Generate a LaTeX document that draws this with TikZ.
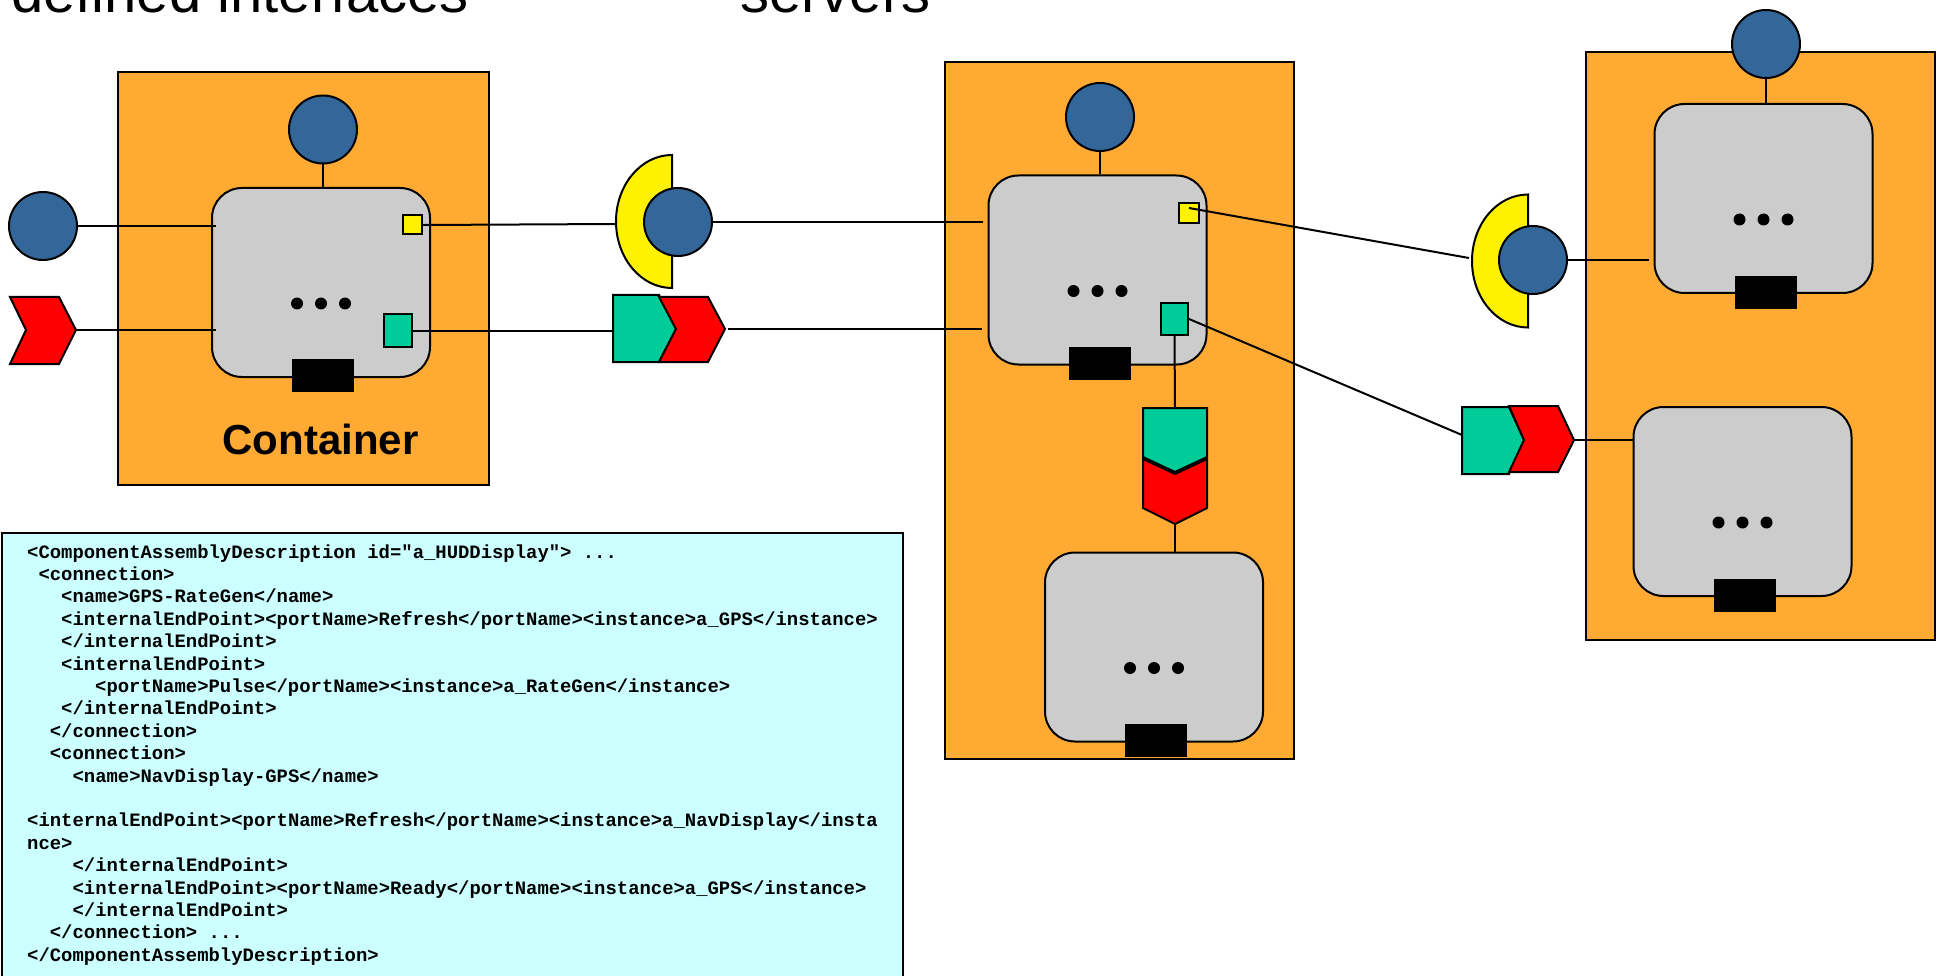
\documentclass[tikz,border=0pt]{standalone}
\usepackage{fontspec}
\setmainfont{Liberation Sans}
\setmonofont{Liberation Mono}

\definecolor{boxorange}{HTML}{FFAA33}
\definecolor{facetblue}{HTML}{336699}
\definecolor{compgray}{HTML}{CCCCCC}
\definecolor{evteal}{HTML}{00CC99}
\definecolor{xmlcyan}{HTML}{CCFFFF}

\tikzset{
  outline/.style={draw=black, line width=2pt},
  container/.style={outline, rectangle, fill=boxorange, inner sep=0pt},
  comp/.style={outline, rectangle, rounded corners=30pt, fill=compgray,
    minimum width=218pt, minimum height=189pt, inner sep=0pt},
  facet/.style={outline, circle, fill=facetblue, minimum size=68pt, inner sep=0pt},
  recport/.style={outline, rectangle, fill=yellow, minimum size=19pt, inner sep=0pt},
  srcport/.style={outline, rectangle, fill=evteal, minimum width=28pt,
    minimum height=33pt, inner sep=0pt},
  homeport/.style={rectangle, fill=black, minimum width=62pt,
    minimum height=33pt, inner sep=0pt},
  wire/.style={draw=black, line width=2pt},
  sinkshape/.style={outline, fill=red, line join=miter},
  srcshape/.style={outline, fill=evteal, line join=miter},
  recshape/.style={outline, fill=yellow},
  xmltext/.style={anchor=base west, inner sep=0pt,
    font=\ttfamily\bfseries\fontsize{18.9pt}{22.4pt}\selectfont},
  headline/.style={anchor=base west, inner sep=0pt,
    font=\fontsize{58pt}{62pt}\selectfont},
}

\begin{document}
\begin{tikzpicture}[x=1pt, y=-1pt]
\useasboundingbox (0,0) rectangle (1938,976);

% headings (partly above the page)
\node[headline] (headA) at (11,12.5) {defined interfaces};
\node[headline] (headB) at (740,12.5) {servers};

% XML descriptor
\draw[outline, fill=xmlcyan] (2,533) rectangle (903,990);
\node[xmltext] (x1)  at (27,558.0)   {<ComponentAssemblyDescription id="a\_HUDDisplay"> ...};
\node[xmltext] (x2)  at (38.3,580.4) {<connection>};
\node[xmltext] (x3)  at (61,602.8)   {<name>GPS-RateGen</name>};
\node[xmltext] (x4)  at (61,625.2)   {<internalEndPoint><portName>Refresh</portName><instance>a\_GPS</instance>};
\node[xmltext] (x5)  at (61,647.6)   {</internalEndPoint>};
\node[xmltext] (x6)  at (61,670.0)   {<internalEndPoint>};
\node[xmltext] (x7)  at (95,692.4)   {<portName>Pulse</portName><instance>a\_RateGen</instance>};
\node[xmltext] (x8)  at (61,714.8)   {</internalEndPoint>};
\node[xmltext] (x9)  at (49.7,737.2) {</connection>};
\node[xmltext] (x10) at (49.7,759.6) {<connection>};
\node[xmltext] (x11) at (72.4,782.0) {<name>NavDisplay-GPS</name>};
\node[xmltext] (x13) at (27,826.8)   {<internalEndPoint><portName>Refresh</portName><instance>a\_NavDisplay</insta};
\node[xmltext] (x14) at (27,849.2)   {nce>};
\node[xmltext] (x15) at (72.4,871.6) {</internalEndPoint>};
\node[xmltext] (x16) at (72.4,894.0) {<internalEndPoint><portName>Ready</portName><instance>a\_GPS</instance>};
\node[xmltext] (x17) at (72.4,916.4) {</internalEndPoint>};
\node[xmltext] (x18) at (49.7,938.8) {</connection> ...};
\node[xmltext] (x19) at (27,961.2)   {</ComponentAssemblyDescription>};

% containers
\node[container, minimum width=371pt, minimum height=413pt] (c1) at (303.5,278.5) {};
\node[container, minimum width=349pt, minimum height=697pt] (c2) at (1119.5,410.5) {};
\node[container, minimum width=349pt, minimum height=587.5pt] (c3) at (1760.5,346.25) {};
\node[anchor=base, inner sep=0pt, font=\bfseries\fontsize{42pt}{46pt}\selectfont]
  (clabel) at (320.5,454) {Container};

% components
\node[comp] (g1) at (321,282.5) {};
\node[comp] (g2) at (1097.5,270) {};
\node[comp] (g3) at (1154,647) {};
\node[comp] (g4) at (1763.5,198.5) {};
\node[comp] (g5) at (1742.5,501.5) {};

\foreach \g in {g1,g2,g3,g4,g5}
  \foreach \dx in {-24,0,24}
    \fill ([shift={(\dx,21)}]\g.center) circle (6);

% home ports
\node[homeport] (h1) at (323,375.5) {};
\node[homeport] (h2) at (1100,363.5) {};
\node[homeport] (h3) at (1156,740.5) {};
\node[homeport] (h4) at (1766,292.5) {};
\node[homeport] (h5) at (1745,595.5) {};

% receptacles and event sources on components
\node[recport] (y1) at (412.5,225) {};
\node[recport, minimum size=20pt] (y2) at (1189,213) {};
\node[srcport] (t1) at (398,330.5) {};
\node[srcport, minimum width=27pt, minimum height=32pt] (t2) at (1174.5,319) {};

% facets
\node[facet] (f0) at (43,226) {};
\node[facet] (f1) at (323,129.5) {};
\node[facet] (f2) at (1100,117) {};
\node[facet] (f3) at (1766,44) {};

% event sink on the left
\draw[sinkshape] (10,297) -- (59,297) -- (76,330) -- (59,364) -- (10,364) -- (26,330) -- cycle;
\coordinate (ev0tip) at (76,330);

% receptacle cups with connected facets
\draw[recshape] (672,288) arc[start angle=90, end angle=270, x radius=56, y radius=66.5] -- cycle;
\coordinate (m1w) at (616,224);
\node[facet] (fa) at (678,222) {};
\draw[recshape] (1528,327.5) arc[start angle=90, end angle=270, x radius=56, y radius=66.5] -- cycle;
\coordinate (m2w) at (1469,258);
\node[facet] (fb) at (1533,260) {};

% event source / sink pairs
\draw[srcshape] (613,295) -- (659,295) -- (676,329) -- (659,362) -- (613,362) -- cycle;
\draw[sinkshape] (659,297) -- (708,297) -- (725,329) -- (708,362) -- (659,362) -- (676,329) -- cycle;
\coordinate (p1w) at (613,330.5);
\coordinate (r1tip) at (725,329);

\draw[srcshape] (1143,408) -- (1207,408) -- (1207,457) -- (1175,472) -- (1143,457) -- cycle;
\draw[sinkshape] (1143,459) -- (1175,474) -- (1207,459) -- (1207,508) -- (1175,524) -- (1143,508) -- cycle;
\coordinate (pdtop) at (1175,408);
\coordinate (rdtip) at (1175,524);

\draw[srcshape] (1462,407) -- (1509,407) -- (1524,440) -- (1509,474) -- (1462,474) -- cycle;
\draw[sinkshape] (1509,406) -- (1558,406) -- (1574,440) -- (1558,472) -- (1509,472) -- (1524,440) -- cycle;
\coordinate (p2w) at (1462,435);
\coordinate (r2tip) at (1574,440);

% connections
\draw[wire] (f0.east) -- ([xshift=5pt]g1.west |- f0.east);
\draw[wire] (ev0tip) -- ([xshift=5pt]g1.west |- ev0tip);
\draw[wire] (f1.south) -- (g1.north -| f1.south);
\draw[wire] (y1.east) -- (m1w);
\draw[wire] (fa.east) -- ([xshift=-5pt]g2.west |- fa.east);
\draw[wire] (t1.east) -- (p1w);
\draw[wire] ([xshift=3pt]r1tip) -- ([xshift=-6pt]g2.west |- r1tip);
\draw[wire] (f2.south) -- (g2.north -| f2.south);
\draw[wire] ([yshift=5pt]y2.center) -- (m2w);
\draw[wire] (t2.east) -- (p2w);
\draw[wire] (t2.south) -- (pdtop);
\draw[wire] (rdtip) -- (g3.north -| rdtip);
\draw[wire] (fb.east) -- ([xshift=-5pt]g4.west |- fb.east);
\draw[wire] (r2tip) -- (g5.west |- r2tip);
\draw[wire] (f3.south) -- (g4.north -| f3.south);
\end{tikzpicture}
\end{document}
